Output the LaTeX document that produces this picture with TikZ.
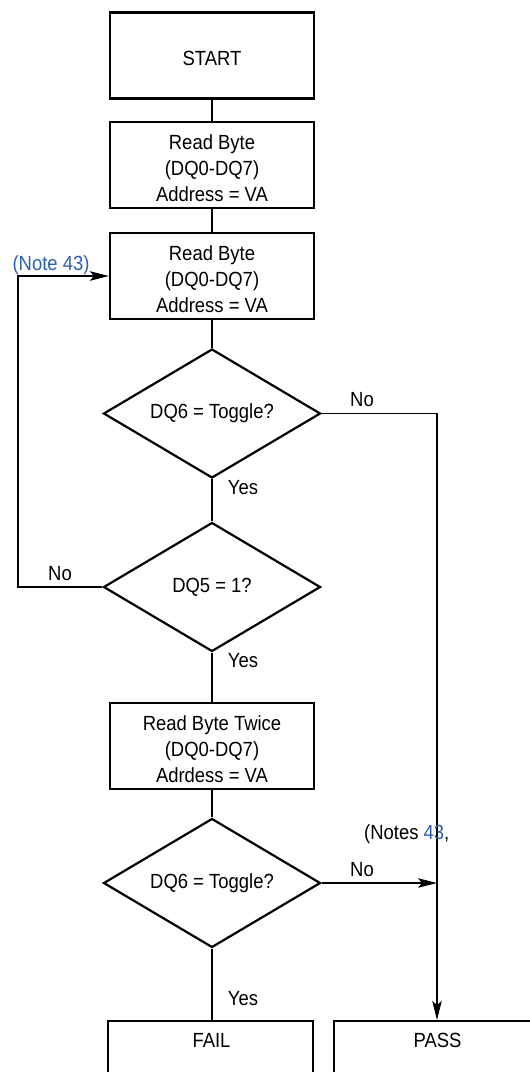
\documentclass[tikz,border=0pt]{standalone}
\usepackage{fontspec}
\setmainfont{Liberation Sans}[FakeStretch=0.9]
\usetikzlibrary{shapes.geometric,arrows.meta}
\definecolor{noteblue}{RGB}{45,95,175}
\begin{document}
\begin{tikzpicture}[x=1pt,y=-1pt,
  every node/.style={font=\fontsize{20.5}{26}\selectfont},
  box/.style={draw,line width=2.2pt,minimum width=204pt,minimum height=86pt,inner sep=0pt},
  txt/.style={align=center,inner sep=0pt},
  dia/.style={draw,diamond,line width=2.2pt,minimum width=217pt,minimum height=129pt,aspect=1.68,inner sep=0pt},
  conn/.style={line width=1.3pt},
  arr/.style={line width=1.3pt,-{Stealth[length=19pt,width=9.5pt,inset=4pt]}},
  lbl/.style={inner sep=0pt}]
\useasboundingbox (0,0) rectangle (530,1072);
\node[box] (start) at (212,55.5) {};
\node[txt] (startt) at ([yshift=-3pt]start.center) {START};
\node[box] (rb1) at (212,165) {};
\node[txt] (rb1t) at ([yshift=-3.5pt]rb1.center) {Read Byte\\(DQ0-DQ7)\\Address = VA};
\node[box] (rb2) at (212,276) {};
\node[txt] (rb2t) at ([yshift=-3.5pt]rb2.center) {Read Byte\\(DQ0-DQ7)\\Address = VA};
\node[dia] (d1) at (212,413.5) {DQ6 = Toggle?};
\node[dia] (d2) at (212,587) {DQ5 = 1?};
\node[box] (rb3) at (212,746) {};
\node[txt] (rb3t) at ([yshift=-3.5pt]rb3.center) {Read Byte Twice\\(DQ0-DQ7)\\Adrdess = VA};
\node[dia] (d3) at (212,883) {DQ6 = Toggle?};
\node[draw,line width=2.2pt,minimum width=205pt,minimum height=80pt,anchor=north] (fail) at (210.5,1020) {};
\node[draw,line width=2.2pt,minimum width=205pt,minimum height=80pt,anchor=north west] (pass) at (333,1020) {};
\node[txt] (failt) at (211.5,1040.5) {FAIL};
\node[txt] (passt) at (437.5,1040.5) {PASS};
\coordinate (c1) at (437,413.5);
\coordinate (c2) at (18,587);
\coordinate (c3) at (18,276);
\coordinate (c4) at (437,883);
\draw[conn] (start) -- (rb1);
\draw[conn] (rb1) -- (rb2);
\draw[conn] (rb2) -- (d1);
\draw[conn] (d1) -- (d2);
\draw[conn] (d2) -- (rb3);
\draw[conn] (rb3) -- (d3);
\draw[conn] (d3.south) -- (d3.south |- fail.north);
\draw[arr] (d1.east) -- (c1) -- (pass.north -| c1);
\draw[arr] (d3.east) -- (c4);
\draw[arr] (d2.west) -- (c2) -- (c3) -- (rb2.west);
\node[lbl] at (362,400) {No};
\node[lbl] at (243,488) {Yes};
\node[lbl] at (60,574) {No};
\node[lbl] at (243,661) {Yes};
\node[lbl] at (362,870) {No};
\node[lbl] at (243,999) {Yes};
\node[lbl,text=noteblue] at (51,265) {(Note 43)};
\node[lbl,anchor=west] at (364,834) {(Notes \textcolor{noteblue}{43},};
\end{tikzpicture}
\end{document}
